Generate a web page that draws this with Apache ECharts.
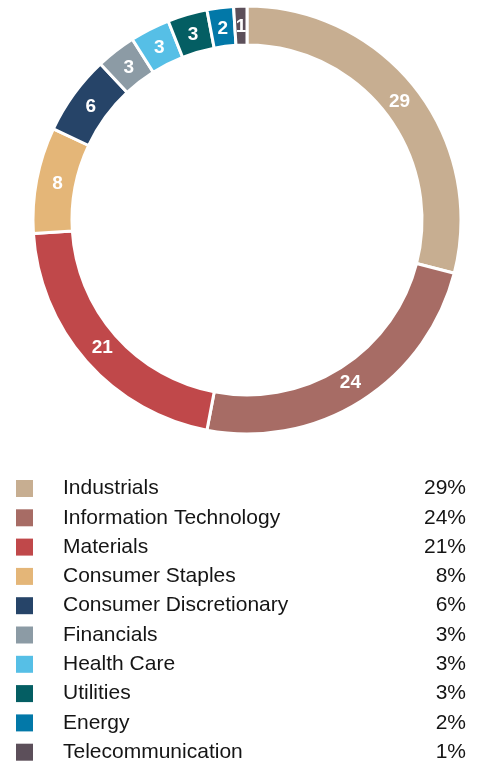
<!DOCTYPE html>
<html>
<head>
<meta charset="utf-8">
<script src="https://cdn.jsdelivr.net/npm/echarts@6/dist/echarts.min.js"></script>
<style>
  html, body { margin: 0; padding: 0; background: #fff; }
  #chart { width: 479px; height: 761px; }
</style>
</head>
<body>
<div id="chart"></div>
<script>
// sector weights (%)
var sectors = ['Industrials', 'Information Technology', 'Materials', 'Consumer Staples',
  'Consumer Discretionary', 'Financials', 'Health Care', 'Utilities', 'Energy', 'Telecommunication'];
var weights = [29, 24, 21, 8, 6, 3, 3, 3, 2, 1];
var colors = ['#C7AE91', '#A76C65', '#C0484A', '#E4B678', '#264468',
  '#8C9BA5', '#56BFE6', '#045E63', '#0278A8', '#5C4F5A'];

var chart = echarts.init(document.getElementById('chart'));

var pieData = [];
for (var i = 0; i < sectors.length; i++) {
  pieData.push({ name: sectors[i], value: weights[i], itemStyle: { color: colors[i] } });
}

var font = 'Liberation Sans, Arial, sans-serif';
var cx = 247, cy = 220;

var option = {
  animation: false,
  legend: {
    orient: 'vertical',
    left: 16,
    top: 478,
    height: 320,
    padding: 0,
    icon: 'rect',
    itemWidth: 17,
    itemHeight: 17,
    itemGap: 8.3,
    itemStyle: { borderWidth: 0 },
    selectedMode: false,
    data: sectors,
    formatter: function (name) {
      var v = weights[sectors.indexOf(name)];
      return '{s| }{n|' + name + '}{v|' + v + '%}';
    },
    textStyle: {
      fontFamily: font,
      fontSize: 21,
      color: '#151515',
      rich: {
        s: { width: 25, fontSize: 21 },
        n: { width: 353, fontSize: 21, color: '#151515', fontFamily: font },
        v: { width: 50, align: 'right', fontSize: 21, color: '#151515', fontFamily: font }
      }
    }
  },
  series: [{
    type: 'pie',
    center: [cx, cy],
    radius: [175, 214],
    startAngle: 90,
    clockwise: true,
    avoidLabelOverlap: false,
    itemStyle: { borderColor: '#fff', borderWidth: 3 },
    label: {
      show: true,
      position: 'inside',
      formatter: '{c}',
      color: '#fff',
      fontWeight: 'bold',
      fontSize: 19,
      fontFamily: font
    },
    // pull the numbers a little toward the middle of the ring
    labelLayout: function (p) {
      var r = p.labelRect;
      var mx = r.x + r.width / 2, my = r.y + r.height / 2;
      var dx = mx - cx, dy = my - cy;
      var d = Math.sqrt(dx * dx + dy * dy);
      var k = 193 / d;
      return { x: cx + dx * k, y: cy + dy * k, align: 'center', verticalAlign: 'middle' };
    },
    labelLine: { show: false },
    emphasis: { disabled: true },
    data: pieData
  }]
};

chart.setOption(option);
</script>
</body>
</html>
